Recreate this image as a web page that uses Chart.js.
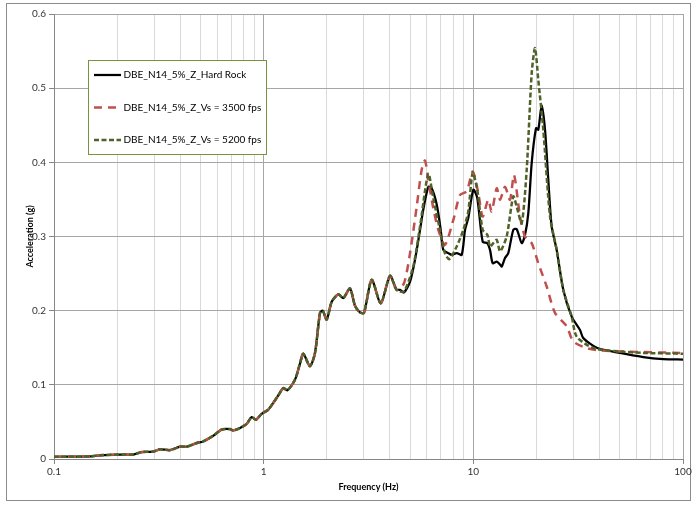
<!DOCTYPE html>
<html>
<head>
<meta charset="utf-8">
<script src="https://cdn.jsdelivr.net/npm/chart.js@4/dist/chart.umd.min.js"></script>
<style>
  html, body { margin: 0; padding: 0; background: #ffffff; }
  canvas { display: block; }
</style>
</head>
<body>
<canvas id="c" width="696" height="505"></canvas>
<script>
// ---- Data ----
const seriesNames = [
  'DBE_N14_5%_Z_Hard Rock',
  'DBE_N14_5%_Z_Vs = 3500 fps',
  'DBE_N14_5%_Z_Vs = 5200 fps'
];

// Shared part of all three spectra (below ~4.5 Hz the curves coincide)
const freqCommon = [0.1, 0.103, 0.1485, 0.1657, 0.2064, 0.2388, 0.2619, 0.2976, 0.3203, 0.3575,
  0.399, 0.4295, 0.4794, 0.515, 0.575, 0.631, 0.691, 0.716, 0.771, 0.830,
  0.877, 0.919, 0.979, 1.052, 1.17, 1.241, 1.297, 1.411, 1.491, 1.545,
  1.663, 1.757, 1.857, 1.912, 1.998, 2.111, 2.27, 2.398, 2.58, 2.727,
  2.88, 3.01, 3.275, 3.62, 4.005, 4.31];
const accCommon = [0.003, 0.003, 0.0035, 0.005, 0.006, 0.006, 0.0094, 0.010, 0.013, 0.012,
  0.0166, 0.0166, 0.0215, 0.0237, 0.0314, 0.0398, 0.0404, 0.0385, 0.0418, 0.0474,
  0.0565, 0.053, 0.061, 0.0665, 0.085, 0.0957, 0.0925, 0.107, 0.129, 0.142,
  0.125, 0.143, 0.197, 0.200, 0.188, 0.212, 0.222, 0.217, 0.230, 0.2066,
  0.1976, 0.197, 0.2416, 0.210, 0.247, 0.228];

// Hard Rock (above the shared part)
const freqHardRock = [4.47, 4.67, 4.99, 5.27, 5.57, 5.77, 6.10, 6.33, 6.69, 6.99,
  7.19, 7.60, 7.89, 8.33, 8.80, 9.13, 9.46, 10.0, 10.44, 11.08,
  11.66, 12.01, 12.37, 12.93, 13.41, 13.66, 14.16, 14.68, 15.51, 16.10,
  17.01, 17.64, 18.29, 18.98, 19.90, 20.41, 21.18, 21.97, 22.78, 23.64,
  24.97, 26.86, 29.45, 32.27, 33.46, 38.77, 50.06, 64.67, 80.54, 100];
const accHardRock = [0.228, 0.2245, 0.239, 0.2686, 0.309, 0.336, 0.367, 0.365, 0.343, 0.309,
  0.282, 0.2776, 0.2753, 0.2776, 0.2753, 0.309, 0.325, 0.363, 0.352, 0.293,
  0.291, 0.282, 0.264, 0.266, 0.262, 0.2596, 0.271, 0.2776, 0.309, 0.310,
  0.291, 0.302, 0.3315, 0.399, 0.446, 0.444, 0.477, 0.444, 0.3765, 0.3135,
  0.282, 0.228, 0.192, 0.174, 0.163, 0.150, 0.143, 0.1375, 0.1348, 0.134];

// Vs = 3500 fps
const freqVs3500 = [4.67, 4.99, 5.37, 5.67, 5.88, 6.10, 6.44, 6.81, 7.32, 8.03,
  8.64, 9.30, 9.93, 10.56, 11.08, 11.78, 12.23, 12.93, 13.41, 14.16,
  14.95, 15.63, 16.70, 17.64, 18.98, 20.41, 22.38, 24.51, 27.88, 29.98,
  34.73, 40.19, 50.06, 100];
const accVs3500 = [0.237, 0.2776, 0.3404, 0.390, 0.4025, 0.3765, 0.3383, 0.309, 0.2888, 0.3225,
  0.356, 0.361, 0.3877, 0.3585, 0.327, 0.3495, 0.3337, 0.365, 0.3495, 0.367,
  0.3495, 0.383, 0.327, 0.300, 0.291, 0.264, 0.2326, 0.197, 0.179, 0.1585,
  0.1496, 0.1464, 0.145, 0.143];

// Vs = 5200 fps
const freqVs5200 = [4.67, 5.17, 5.57, 6.10, 6.44, 6.93, 7.32, 7.68, 8.33, 8.96,
  9.46, 9.93, 10.44, 11.08, 11.66, 12.01, 12.45, 12.93, 13.41, 14.42,
  15.51, 16.10, 17.01, 17.97, 18.98, 19.69, 20.41, 21.56, 23.21, 24.97,
  26.86, 29.45, 31.12, 37.35, 50.06, 64.67, 100];
const accVs5200 = [0.226, 0.2596, 0.3135, 0.3845, 0.352, 0.309, 0.2776, 0.2695, 0.2865, 0.309,
  0.3337, 0.386, 0.363, 0.309, 0.3023, 0.2865, 0.291, 0.2955, 0.280, 0.300,
  0.354, 0.3404, 0.318, 0.390, 0.520, 0.554, 0.511, 0.444, 0.327, 0.282,
  0.228, 0.192, 0.165, 0.1496, 0.145, 0.143, 0.142];

// Axis ticks
const xTickValues = [0.1, 0.2, 0.3, 0.4, 0.5, 0.6, 0.7, 0.8, 0.9,
  1, 2, 3, 4, 5, 6, 7, 8, 9,
  10, 20, 30, 40, 50, 60, 70, 80, 90, 100];
const xTickLabels = ['0.1', '1', '10', '100'];
const yTickLabels = ['0', '0.1', '0.2', '0.3', '0.4', '0.5', '0.6'];

// ---- Helpers ----
function toPoints(fs, as) { return fs.map((f, i) => ({ x: f, y: as[i] })); }
const isMajor = v => xTickLabels.includes(String(v));

const FONT = 'Lato, "Liberation Sans", sans-serif';

const legendPlugin = {
  id: 'boxLegend',
  afterDraw(chart) {
    const ctx = chart.ctx;
    const box = { x: 88.5, y: 60.5, w: 178, h: 94 };
    ctx.save();
    ctx.fillStyle = '#ffffff';
    ctx.fillRect(box.x, box.y, box.w, box.h);
    ctx.strokeStyle = '#77933c';
    ctx.lineWidth = 1;
    ctx.strokeRect(box.x, box.y, box.w, box.h);
    const rows = [75, 107.5, 140];
    const order = [2, 1, 0]; // dataset index for each legend row
    rows.forEach((ry, i) => {
      const ds = chart.data.datasets[order[i]];
      ctx.strokeStyle = ds.borderColor;
      ctx.lineWidth = ds.borderWidth;
      ctx.setLineDash(ds.borderDash || []);
      ctx.beginPath();
      ctx.moveTo(94, ry);
      ctx.lineTo(121, ry);
      ctx.stroke();
      ctx.setLineDash([]);
      ctx.fillStyle = '#000000';
      ctx.font = '10px ' + FONT;
      ctx.textBaseline = 'middle';
      ctx.textAlign = 'left';
      ctx.fillText(ds.label, 123.5, ry);
    });
    ctx.restore();
  }
};

const framePlugin = {
  id: 'frame',
  beforeDraw(chart) {
    const ctx = chart.ctx;
    ctx.save();
    ctx.fillStyle = '#ffffff';
    ctx.fillRect(0, 0, chart.width, chart.height);
    ctx.strokeStyle = '#8c8c8c';
    ctx.lineWidth = 1;
    ctx.strokeRect(6.5, 3.5, 684, 497);
    ctx.restore();
  }
};

new Chart(document.getElementById('c'), {
  type: 'line',
  data: {
    datasets: [
      {
        label: seriesNames[2],
        data: toPoints(freqCommon.concat(freqVs5200), accCommon.concat(accVs5200)),
        borderColor: '#4f6228',
        borderWidth: 2.5,
        borderDash: [5, 2.5],
        order: 0
      },
      {
        label: seriesNames[1],
        data: toPoints(freqCommon.concat(freqVs3500), accCommon.concat(accVs3500)),
        borderColor: '#c0504d',
        borderWidth: 2.5,
        borderDash: [8, 6],
        order: 1
      },
      {
        label: seriesNames[0],
        data: toPoints(freqCommon.concat(freqHardRock), accCommon.concat(accHardRock)),
        borderColor: '#000000',
        borderWidth: 2.25,
        order: 2
      }
    ]
  },
  options: {
    responsive: false,
    animation: false,
    devicePixelRatio: 1,
    layout: { padding: { left: 0, top: 14, right: 13, bottom: 0 } },
    elements: {
      point: { radius: 0, hoverRadius: 0 },
      line: { tension: 0.25, fill: false }
    },
    plugins: {
      legend: { display: false },
      tooltip: { enabled: false }
    },
    scales: {
      x: {
        type: 'logarithmic',
        min: 0.1,
        max: 100,
        afterBuildTicks(axis) { axis.ticks = xTickValues.map(v => ({ value: v })); },
        afterFit(axis) { axis.height = 46; },
        ticks: {
          autoSkip: false,
          maxRotation: 0,
          padding: 2,
          color: '#333333',
          font: { family: FONT, size: 10 },
          callback(value) { return isMajor(value) ? String(value) : ''; }
        },
        grid: {
          color: c => (c.tick && isMajor(c.tick.value)) ? '#a6a6a6' : '#d9d9d9',
          tickColor: c => (c.tick && isMajor(c.tick.value)) ? '#868686' : 'rgba(0,0,0,0)',
          tickLength: 5,
          lineWidth: 1
        },
        border: { color: '#868686', width: 1 },
        title: {
          display: true,
          text: 'Frequency (Hz)',
          color: '#000000',
          font: { family: FONT, size: 9, weight: 'bold' },
          padding: { top: 0, bottom: 12.6 }
        }
      },
      y: {
        type: 'linear',
        min: 0,
        max: 0.6,
        afterFit(axis) { axis.width = 54; },
        ticks: {
          stepSize: 0.1,
          padding: 3,
          color: '#333333',
          font: { family: FONT, size: 10 },
          callback(value, index) { return yTickLabels[index]; }
        },
        grid: {
          color: '#a6a6a6',
          tickColor: '#868686',
          tickLength: 5,
          lineWidth: 1
        },
        border: { color: '#868686', width: 1 },
        title: {
          display: true,
          text: 'Acceleration (g)',
          color: '#000000',
          font: { family: FONT, size: 9, weight: 'bold' },
          padding: { top: 24.6, bottom: 0 }
        }
      }
    }
  },
  plugins: [framePlugin, legendPlugin]
});
</script>
</body>
</html>
